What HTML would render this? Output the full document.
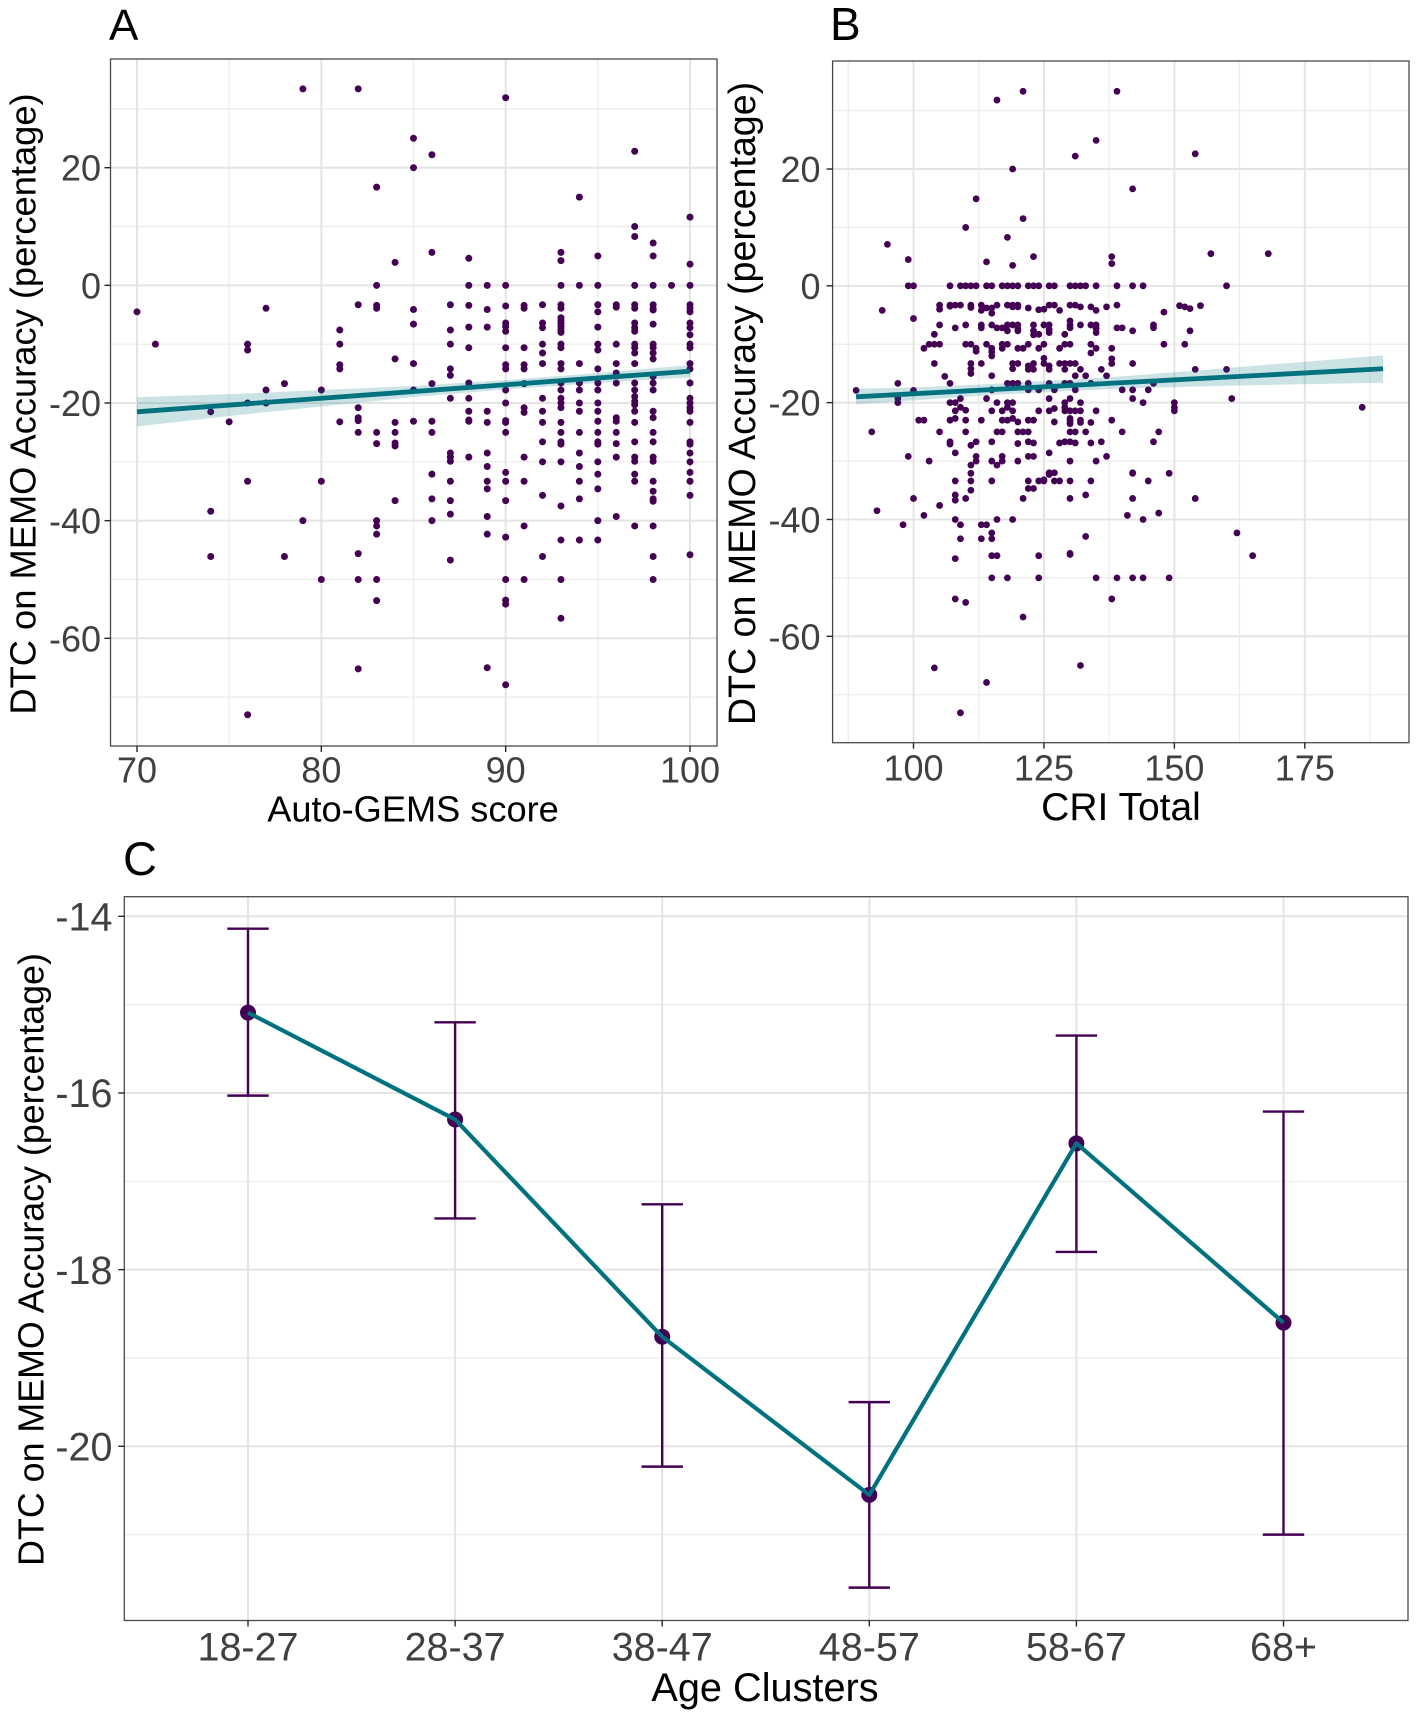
<!DOCTYPE html>
<html lang="en">
<head>
<meta charset="utf-8">
<title>DTC on MEMO Accuracy</title>
<style>
html,body{margin:0;padding:0;background:#fff;}
svg{display:block;font-family:"Liberation Sans",Arial,sans-serif;}
</style>
</head>
<body>
<svg id="figure" xmlns="http://www.w3.org/2000/svg" width="1417" height="1720" viewBox="0 0 1417 1720">
<rect x="0" y="0" width="1417" height="1720" fill="#ffffff"/>
</svg>
<script>
/* Panel A data */
const scoresA = [70,71,74,75,76,77,78,79,80,81,82,83,84,85,86,87,88,89,90,91,92,93,94,95,96,97,98,99,100];
const dtcA = [
[-4.5],
[-10],
[-21.5,-38.4,-46.1],
[-23.2],
[-10,-11,-20,-33.3,-73],
[-3.9,-17.8,-20],
[-16.7,-46.1],
[33.4,-40],
[-17.8,-33.3,-50],
[-7.6,-10,-13.5,-14.2,-23.2],
[33.4,-3.3,-20.8,-22.5,-23,-25,-45.6,-50,-65.2],
[16.7,0,-3.4,-3.9,-25,-26.9,-40,-40.9,-42.3,-50,-53.6],
[3.9,-12.5,-23.3,-25,-26.8,-27.3,-36.6],
[25,20,-4.1,-6.6,-13.3,-17.8,-23.1],
[22.2,5.6,-16.7,-23.1,-25,-32.1,-36.3,-40],
[-3.3,-7.6,-10,-14.2,-15.3,-19.2,-28.5,-29.2,-29.9,-33.3,-36.6,-38.9,-46.7],
[4.6,0,-3.4,-7.1,-10.6,-16.6,-19.2,-21.4,-22.9,-23.1,-29.2],
[0,-4.1,-7.1,-21.4,-23.3,-28.5,-30.8,-33.3,-34.6,-39.3,-42.3,-65],
[31.9,0,-3.5,-6.4,-7,-7.8,-10.6,-13.5,-14.2,-17.8,-20,-23,-23.3,-25,-31.8,-33.3,-36.6,-42.8,-50,-53.5,-54.2,-67.9],
[-3.4,-3.9,-10.6,-13.5,-14.2,-16.7,-20.8,-21.6,-29.2,-33.3,-40.9,-50],
[-3.3,-6.4,-7.2,-10,-11.5,-13.3,-19.2,-21.4,-23.3,-26.6,-30,-35.7,-46.1],
[5.6,4.2,0,-3.3,-3.9,-5.5,-6,-6.5,-7,-7.5,-8,-10,-10.6,-13.3,-14.2,-16.6,-17.8,-19.2,-20,-20.8,-23.3,-25,-26.6,-27,-30,-37.5,-43.3,-50,-56.6],
[15,0,-13.3,-16.6,-17.8,-20,-21.4,-25,-28.5,-30.8,-33.3,-36.3,-43.3],
[5,0,-3.3,-4.5,-7.1,-10,-11,-14.2,-16.6,-17.8,-20,-21.4,-23.1,-25,-26.6,-27,-30,-32.1,-34.6,-40,-43.3],
[-3.3,-3.7,-10,-13.3,-14.9,-16.6,-22.5,-23.1,-25,-26.9,-29.2,-39.3],
[22.8,10,8.3,0,-3.3,-3.9,-6.4,-7.2,-7.8,-10,-10.6,-11.5,-13.3,-16.6,-17.8,-18.9,-19.7,-20.3,-21.4,-23.3,-26.6,-29.2,-29.9,-32.1,-33.3,-40.9],
[7.2,5,0,-3.3,-3.9,-4.2,-6.6,-10,-10.6,-11.5,-12.5,-15.5,-16.6,-17.8,-21.4,-22.5,-25,-26.6,-29.2,-29.9,-33.3,-35,-36.3,-36.7,-40.9,-46.1,-50],
[0],
[11.6,3.6,0,-3.3,-3.9,-4.5,-6.4,-7.2,-8.4,-10,-10.6,-13.3,-14.2,-16.6,-19.2,-20,-20.8,-21.4,-23.3,-26.6,-27,-28.5,-30,-31.8,-33.3,-35.7,-45.8]
];
const trendAX = [70,100];
const trendAY = [-21.5,-14.6];
const ribbonAX = [70,75,80,85,90,95,100];
const ribbonAUpper = [-19,-18.5,-17.8,-17.1,-16.1,-14.9,-13.55];
const ribbonALower = [-24,-22.2,-20.6,-19,-17.7,-16.6,-15.65];
const xTicksA = [70,80,90,100];
const xMinorA = [75,85,95];
const yTicks = [20,0,-20,-40,-60];
const yMinor = [30,10,-10,-30,-50,-70];

/* Panel B data */
const criB = [89,92,93,94,95,97,98,99,100,101,102,103,104,105,106,107,108,109,110,111,112,113,114,115,116,117,118,119,120,121,122,123,124,125,126,127,128,129,130,131,132,133,134,135,136,137,138,139,140,141,142,144,145,146,147,148,149,150,151,152,153,154,155,157,160,161,162,165,168,186];
const dtcB = [
[-17.9],
[-25],
[-38.5],
[-4.2],
[7.1],
[-16.7,-19.3,-20],
[-40.9],
[4.5,0,-29.2],
[0,-5.6,-17.9,-36.4],
[-23],
[-23,-10.7,-39.3],
[-10,-30],
[-8.3,-10,-13.3,-65.4],
[-3.3,-4,-6.7,-10,-25,-37.6],
[-15.5],
[0,-3.3,-3.5,-16.7,-20,-23,-26.7,-27.1],
[-3.3,-7.2,-20,-21.4,-22.7,-28.6,-33.4,-35.8,-36.7,-40,-46.7,-53.6],
[0,-3.3,-19.3,-20.8,-40.9,-43.3,-73.1],
[0,10,-6.7,-10,-21.3,-23,-25,-36.4,-54.2],
[0,-3.3,-3.7,-10,-13.3,-14.2,-15,-27.3,-30.7,-32.1,-33.4,-35],
[0,14.9,-10.7,-11.2,-26.7,-29.2,-30],
[-3.3,-4.2,-6.7,-7.2,-13.3,-23,-40.9,-43.3],
[0,-3.8,-10,-19.3,4.1,-40.9,-67.9],
[0,-3.8,-4.7,-6.7,-10.7,-11.3,-12,-15.4,-17.8,-21.4,-26.7,-30,-33.4,-42.3,-43.3,-46.2,-50],
[-3.3,-7.2,-20,-25,-30.7,31.8,-46.2,-40],
[0,-7.2,-10,-10.7,-21.4,-23,-25,-29.2,-30],
[0,-3.3,-6.7,-7.7,-10,-16.7,-20,-20.8,-23,8.3,-50],
[0,20,3.5,-3.3,-3.6,-6.7,-13.3,-14.2,-16.7,-20,-21.4,-22.7,-40],
[0,-3.3,-3.6,-6.7,-7.4,-7.7,-10.7,-13.3,-16.7,-23.3,-25,-27,-30],
[33.3,11.5,-10.7,-25,-36.4,-56.7],
[0,-3.8,-10,-13.7,-14.3,-16.7,-17.8,-23,-25,-26.7,-33.4,-29.2,-34.7],
[0,5,-6.7,-7.7,-8.4,-13.3,-14.3,-23,-26.9,-29.2,-34.7],
[0,-4.1,-8.3,-10.7,-17.8,-21.4,-33.4,-46.2,-50],
[-4,-6.7,-10,-12.4,-13.3,-33.4,-33.2],
[0,-3.3,-6.7,-7.5,-8,-13.7,-14.3,-16.7,-19.3,-21.4,-28.6,-32,-32.3,-32.1],
[0,-3.3,-21,-23.3,-17.8,-32,-33.4],
[-4.2,-10.7,-13.3,-26.9,-33.4],
[-8.3,-10,-13.3,-14.3,-16.7,-20,-20.8,-21.4,-26.7],
[0,-3.3,-6,-6.7,-7.2,-10,-13.3,-16.7,-19.3,-21.4,-22.7,-23.1,-23.6,-25,-26.7,-30,-33.4,-36.4,-45.8,-46],
[0,22.2,-3.3,-13.3,-15.4,-17.8,-21.4,-25,-26.9],
[0,-3.6,-6.7,-14.3,-20,-21.4,-23,-23.4,-65],
[0,-15.4,-25,-35.8,-42.9],
[-3.6,-6.7,-10,-11.5,-16.7,-23.4,-26.9,-33.4],
[0,24.9,-4.2,-6.7,-7.3,-8,-10.7,-21.4,-30,-50],
[-14.3,-26.7],
[-3.6,-15.4,-29.2],
[5,3.8,-10.7,-12.5,-13.3,-23,-53.6],
[33.3,0,-3.3,-7.2,-50],
[-7.2,-17.8,-25],
[-39.3],
[0,16.6,-7.7,-13.3,-17.8,-19.3,-32.1,-32,-36.4,-50],
[0,-20,-40,-50],
[-17.8,-33.4],
[-6.7,-7.2,-16.7,-26.7],
[-25,-38.9],
[-4.5,-10],
[-32.1,-50],
[-20,-20.8,-21.4],
[-3.4],
[-3.6,-10],
[-3.9,-7.7],
[22.6,-14.3,-36.4],
[-3.4],
[5.5],
[0,-14.3],
[-19.3],
[-42.3],
[-46.2],
[5.5],
[-20.8]
];
const trendBX = [89,190];
const trendBY = [-19,-14.2];
const ribbonBX = [89,100,115,125,140,160,190];
const ribbonBUpper = [-17.6,-17.4,-16.8,-16.3,-15.5,-14.1,-11.9];
const ribbonBLower = [-20.3,-19.6,-18.7,-18.2,-17.6,-17.1,-16.6];
const xTicksB = [100,125,150,175];
const xMinorB = [87.5,112.5,137.5,162.5,187.5];

/* Panel C data */
const ageClusters = ['18-27','28-37','38-47','48-57','58-67','68+'];
const ageMeans = [-15.09,-16.30,-18.76,-20.55,-16.57,-18.60];
const ageUpper = [-14.14,-15.20,-17.26,-19.50,-15.35,-16.21];
const ageLower = [-16.03,-17.42,-20.23,-21.60,-17.80,-21.00];
const yTicksC = [-14,-16,-18,-20];
const yMinorC = [-15,-17,-19,-21];

const NS = 'http://www.w3.org/2000/svg';
const svg = document.getElementById('figure');
const GRID = '#e4e4e4', GRID_MINOR = '#ebebeb', INK = '#404040', BORDER = '#4a4a4a', TICK = '#262626', PURPLE = '#440154', TEAL = '#00727f';

function linear(d0, d1, r0, r1) {
  return function (v) { return r0 + (v - d0) * (r1 - r0) / (d1 - d0); };
}
function make(tag, parent, attrs, content) {
  const el = document.createElementNS(NS, tag);
  for (const k in attrs) el.setAttribute(k, attrs[k]);
  if (content !== undefined) el.textContent = content;
  parent.appendChild(el);
  return el;
}
function drawFrame(g, box, prefix, xMaj, xMin, yMaj, yMin, xPos, yPos) {
  xMin.forEach(function (v) {
    const el = make('line', g, {x1: xPos(v), x2: xPos(v), y1: box.top, y2: box.bottom, stroke: GRID_MINOR, 'stroke-width': 1.2});
    
    
  });
  yMin.forEach(function (v) {
    const el = make('line', g, {x1: box.left, x2: box.right, y1: yPos(v), y2: yPos(v), stroke: GRID_MINOR, 'stroke-width': 1.2});
    
    
  });
  xMaj.forEach(function (v) {
    const el = make('line', g, {x1: xPos(v), x2: xPos(v), y1: box.top, y2: box.bottom, stroke: GRID, 'stroke-width': 2});
    
    
  });
  yMaj.forEach(function (v) {
    const el = make('line', g, {x1: box.left, x2: box.right, y1: yPos(v), y2: yPos(v), stroke: GRID, 'stroke-width': 2});
    
    
  });
}
function drawBorderAndTicks(g, box, prefix, xMaj, yMaj, xPos, yPos, xLabel, yLabel, st) {
  const border = make('rect', g, {x: box.left, y: box.top, width: box.right - box.left, height: box.bottom - box.top, fill: 'none', stroke: BORDER, 'stroke-width': 1.3});
  
  
  xMaj.forEach(function (v, i) {
    const t = make('line', g, {x1: xPos(v), x2: xPos(v), y1: box.bottom, y2: box.bottom + 6, stroke: TICK, 'stroke-width': 1.4});
    
    
    const l = make('text', g, {x: xPos(v), y: st.xTickBase, 'text-anchor': 'middle', 'font-size': st.tickSize, fill: INK}, xLabel(v, i));
    
    
  });
  yMaj.forEach(function (v) {
    const t = make('line', g, {x1: box.left - 6, x2: box.left, y1: yPos(v), y2: yPos(v), stroke: TICK, 'stroke-width': 1.4});
    
    
    const l = make('text', g, {x: st.yTickRight, y: yPos(v) + st.tickSize * 0.36, 'text-anchor': 'end', 'font-size': st.tickSize, fill: INK}, yLabel(v));
    
    
  });
}
function drawTitles(g, prefix, st) {
  const tag = make('text', g, {x: st.tagX, y: st.tagY, 'font-size': st.tagSize, fill: '#000'}, st.tag);
  
  
  const xt = make('text', g, {x: st.xTitleX, y: st.xTitleY, 'text-anchor': 'middle', 'font-size': st.xTitleSize, fill: '#000'}, st.xTitle);
  
  
  const yt = make('text', g, {transform: 'translate(' + st.yTitleX + ' ' + st.yTitleY + ') rotate(-90)', 'text-anchor': 'middle', 'font-size': st.yTitleSize, fill: '#000'}, 'DTC on MEMO Accuracy (percentage)');
  
  
}
function drawScatter(prefix, box, xPos, yPos, xs, ys, radius, trendX, trendY, ribX, ribUp, ribLo, xMaj, xMin, st) {
  const g = make('g', svg, {});
  
  
  drawFrame(g, box, prefix, xMaj, xMin, yTicks, yMinor, xPos, yPos);
  xs.forEach(function (x, i) {
    ys[i].forEach(function (v) {
      const dot = make('circle', g, {cx: xPos(x), cy: yPos(v), r: radius, fill: PURPLE});
      
      
    });
  });
  const upper = ribX.map(function (x, i) { return xPos(x) + ',' + yPos(ribUp[i]); });
  const lower = ribX.map(function (x, i) { return xPos(x) + ',' + yPos(ribLo[i]); }).reverse();
  const band = make('polygon', g, {points: upper.concat(lower).join(' '), fill: TEAL, 'fill-opacity': 0.2});
  
  
  const trend = make('line', g, {x1: xPos(trendX[0]), y1: yPos(trendY[0]), x2: xPos(trendX[1]), y2: yPos(trendY[1]), stroke: TEAL, 'stroke-width': 4.8});
  
  
  drawBorderAndTicks(g, box, prefix, xMaj, yTicks, xPos, yPos, String, String, st);
  drawTitles(g, prefix, st);
}

drawScatter('panel-a', {left: 110.5, right: 717, top: 59, bottom: 746},
  linear(70, 100, 137, 690), linear(20, -60, 167.7, 638.3),
  scoresA, dtcA, 3.5, trendAX, trendAY, ribbonAX, ribbonAUpper, ribbonALower, xTicksA, xMinorA,
  {tag: 'A', tagX: 109, tagY: 40, tagSize: 44, xTitle: 'Auto-GEMS score', xTitleX: 413, xTitleY: 821.5, xTitleSize: 36.2,
   yTitleX: 35.5, yTitleY: 404, yTitleSize: 36.3, tickSize: 36, xTickBase: 782.3, yTickRight: 101});

drawScatter('panel-b', {left: 832.6, right: 1409, top: 61, bottom: 742.7},
  linear(100, 175, 913.5, 1304.8), linear(20, -60, 169, 636.3),
  criB, dtcB, 3.4, trendBX, trendBY, ribbonBX, ribbonBUpper, ribbonBLower, xTicksB, xMinorB,
  {tag: 'B', tagX: 830, tagY: 40, tagSize: 46, xTitle: 'CRI Total', xTitleX: 1121, xTitleY: 820, xTitleSize: 39,
   yTitleX: 755, yTitleY: 403.5, yTitleSize: 37.6, tickSize: 36, xTickBase: 780.5, yTickRight: 820.5});

(function drawPanelC() {
  const box = {left: 124.3, right: 1408, top: 896.7, bottom: 1620.5};
  const xPos = linear(0, 5, 248, 1283.5);
  const yPos = linear(-14, -20, 916.3, 1446.3);
  const idx = ageClusters.map(function (_, i) { return i; });
  const g = make('g', svg, {});
  
  
  drawFrame(g, box, 'panel-c', idx, [], yTicksC, yMinorC, xPos, yPos);
  idx.forEach(function (i) {
    const dot = make('circle', g, {cx: xPos(i), cy: yPos(ageMeans[i]), r: 8, fill: PURPLE});
    
    
    const d = 'M' + (xPos(i) - 20.7) + ' ' + yPos(ageUpper[i]) + 'H' + (xPos(i) + 20.7) +
      'M' + xPos(i) + ' ' + yPos(ageUpper[i]) + 'V' + yPos(ageLower[i]) +
      'M' + (xPos(i) - 20.7) + ' ' + yPos(ageLower[i]) + 'H' + (xPos(i) + 20.7);
    const bar = make('path', g, {d: d, fill: 'none', stroke: PURPLE, 'stroke-width': 2.4});
    
    
  });
  const pts = idx.map(function (i) { return xPos(i) + ',' + yPos(ageMeans[i]); }).join(' ');
  const line = make('polyline', g, {points: pts, fill: 'none', stroke: TEAL, 'stroke-width': 4.2, 'stroke-linejoin': 'round'});
  
  
  drawBorderAndTicks(g, box, 'panel-c', idx, yTicksC, xPos, yPos,
    function (v, i) { return ageClusters[i]; }, String,
    {tickSize: 39.5, xTickBase: 1660.7, yTickRight: 112.5});
  drawTitles(g, 'panel-c', {tag: 'C', tagX: 123, tagY: 875, tagSize: 47, xTitle: 'Age Clusters', xTitleX: 765, xTitleY: 1701, xTitleSize: 39.7,
    yTitleX: 43.5, yTitleY: 1259.5, yTitleSize: 35.8});
})();
</script>
</body>
</html>
